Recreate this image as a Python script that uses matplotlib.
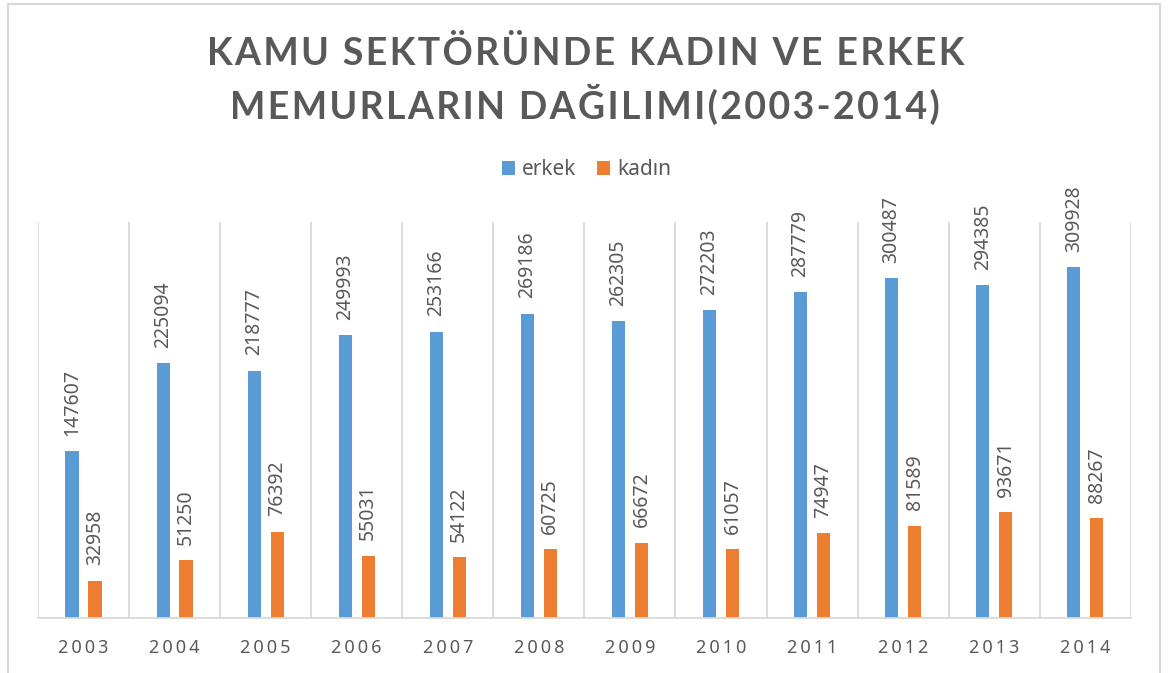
import numpy as np
import matplotlib.pyplot as plt
from matplotlib.patches import Rectangle

plt.rcParams['font.family'] = ['Noto Sans', 'DejaVu Sans']

# data
years = ['2003', '2004', '2005', '2006', '2007', '2008',
         '2009', '2010', '2011', '2012', '2013', '2014']
erkek = [147607, 225094, 218777, 249993, 253166, 269186,
         262305, 272203, 287779, 300487, 294385, 309928]
kadin = [32958, 51250, 76392, 55031, 54122, 60725,
         66672, 61057, 74947, 81589, 93671, 88267]

title_lines = ['KAMU SEKTÖRÜNDE KADIN VE ERKEK', 'MEMURLARIN DAĞILIMI(2003-2014)']

blue = '#5B9BD5'
orange = '#ED7D31'
gray = '#595959'
grid = '#D9D9D9'


def spaced(s, sp='\u200a'):
    return sp.join(s)


fig = plt.figure(figsize=(11.73, 6.73), dpi=100)
ax = fig.add_axes([0.0324, 0.0817, 0.9316, 0.5883])

x = np.arange(len(years))
w = 0.145
off = 0.126
b1 = ax.bar(x - off, erkek, w, color=blue, label='erkek')
b2 = ax.bar(x + off, kadin, w, color=orange, label='kadın')

for bars, vals in ((b1, erkek), (b2, kadin)):
    for r, v in zip(bars, vals):
        ax.annotate(str(v), (r.get_x() + r.get_width() / 2, v),
                    xytext=(0, 11), textcoords='offset points',
                    rotation=90, ha='center', va='bottom',
                    fontsize=14, color=gray)

ax.set_xlim(-0.5, len(years) - 0.5)
ax.set_ylim(0, 350000)

# vertical separators between categories
for s in np.arange(-0.5, len(years)):
    ax.axvline(s, color=grid, lw=1.3, zorder=0)

ax.set_xticks(x)
ax.set_xticklabels([spaced(y, '\u2009') for y in years], fontsize=13, color=gray)
ax.tick_params(axis='x', length=0, pad=15)
ax.set_yticks([])
for side in ('top', 'left', 'right'):
    ax.spines[side].set_visible(False)
ax.spines['bottom'].set_color(grid)
ax.spines['bottom'].set_linewidth(1.3)

for i, line in enumerate(title_lines):
    fig.text(0.499, 0.921 - i * 0.076, spaced(line), ha='center', va='center',
             fontsize=27, fontweight='bold', color=gray,
             family=['Lato', 'DejaVu Sans'])

fig.legend(loc='center', bbox_to_anchor=(0.5, 0.748), ncol=2, frameon=False,
           fontsize=15, handlelength=0.62, handleheight=0.62,
           columnspacing=1.0, handletextpad=0.35, labelcolor=gray)

fig.patches.append(Rectangle((8 / 1173, -0.05), 1152 / 1173, 1.044,
                             transform=fig.transFigure, fill=False,
                             edgecolor=grid, lw=1.5))

fig.savefig('out.png', dpi=100)
